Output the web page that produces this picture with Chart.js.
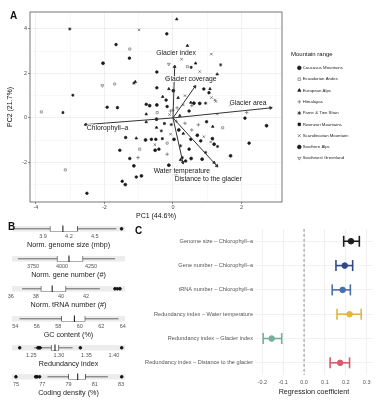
<!DOCTYPE html>
<html>
<head>
<meta charset="utf-8">
<script src="https://cdn.jsdelivr.net/npm/chart.js@4.4.1/dist/chart.umd.min.js"></script>
<style>
  body { margin: 0; background: #fff; }
  #fig { position: relative; width: 380px; height: 400px; font-family: 'Liberation Sans', Arial, sans-serif; overflow: hidden; }
  canvas { position: absolute; }
  .tag { position: absolute; font-weight: bold; font-size: 10px; color: #111; }
</style>
</head>
<body>
<div id="fig">
  <canvas id="pca" width="380" height="224" style="left:0;top:0"></canvas>
  <div class="tag" style="left:10px;top:10px">A</div>
  <canvas id="box0" width="134" height="28" style="left:0;top:221px"></canvas>
  <canvas id="box1" width="134" height="28" style="left:0;top:251px"></canvas>
  <canvas id="box2" width="134" height="28" style="left:0;top:281px"></canvas>
  <canvas id="box3" width="134" height="28" style="left:0;top:311px"></canvas>
  <canvas id="box4" width="134" height="28" style="left:0;top:340px"></canvas>
  <canvas id="box5" width="134" height="28" style="left:0;top:369px"></canvas>
  <div class="tag" style="left:8px;top:221px">B</div>
  <canvas id="coef" width="260" height="178" style="left:120px;top:222px"></canvas>
  <div class="tag" style="left:135px;top:225px">C</div>
</div>
<script>
// ---- panel A: PCA scores by mountain range ----
const rangeNames = ['Caucasus Mountains', 'Ecuadorian Andes', 'European Alps', 'Himalayas',
  'Pamir & Tien Shan', 'Rwenzori Mountains', 'Scandinavian Mountains', 'Southern Alps', 'Southwest Greenland'];

const caucasus = [[-1.66,3.29],[-1.27,2.68],[-1.92,0.48],[-1.62,0.46],[-0.47,2.06],[-0.18,3.77],[0.9,1.3],
  [1.05,1.13],[-0.17,0.51],[2.1,-0.01],[2.22,-1.13],[0.98,-0.17],[0.47,0.31],[-0.5,-0.96],[0.52,-0.96],
  [0.81,-1.03],[-0.41,-1.4],[0.47,-1.4],[0.37,-1.93],[-1.38,-0.88],[-0.63,-0.96],[-1.55,-1.45],[-1.26,-1.82],
  [-1.07,-2.65],[-1.48,-2.84],[-2.51,-3.38],[-0.2,0.8],[-0.78,0.61],[-0.47,1.35]];
const ecuadorian = [[-1.26,3.09],[-1.7,1.52],[0.42,2.3],[1.45,-0.44],[-0.46,0.24],[-0.17,-1.13],[-3.84,0.27],
  [-0.97,-1.4],[-3.14,-2.33]];
const europeanAlps = [[-1.1,1.62],[0.11,4.43],[0.42,3.24],[0.66,2.45],[1.29,1.96],[-0.12,1.3],[1.08,1.3],
  [0.52,0.69],[1.16,-0.39],[-0.48,-0.43],[0.22,-1.88],[1.2,-2.0],[-0.78,0.17],[-0.78,-0.18],[-1.07,-0.91],
  [0.2,0.1],[0.15,0.9],[-0.3,0.95],[0.3,-0.7]];
const himalayas = [[0.55,0.55],[2.15,0.24],[0.74,-0.31],[0.35,-0.24],[0.1,-0.15],[-0.07,0.31],[0.55,-0.54],
  [-0.17,-1.63],[-1.02,-1.78],[0.0,0.35],[0.12,0.45]];
const pamir = [[-3.01,3.99],[-1.14,1.56],[1.39,2.38],[0.95,0.66],[-0.34,-0.58],[1.3,-1.28],[0.22,-1.25],
  [0.95,-1.55],[0.09,-2.6],[-0.05,-0.3]];
const rwenzori = [[-2.92,1.02],[0.53,2.27],[-0.31,-0.93],[0.27,-1.78],[-3.21,0.24],[-0.25,-0.25]];
const scandinavian = [[-0.99,3.95],[1.12,2.86],[0.25,2.63],[0.78,2.08],[1.15,1.7],[1.12,0.91],[1.22,0.81],
  [0.3,0.58],[1.68,0.58],[1.25,0.74],[-0.07,-0.73],[0.9,-0.84],[1.1,-1.08],[-0.53,-1.2],[1.29,0.17],
  [-0.1,0.15],[0.35,1.0]];
const southernAlps = [[-2.04,2.45],[-0.68,0.55],[-0.17,1.78],[0.01,1.22],[0.61,0.66],[-0.47,0.58],[0.78,0.65],
  [2.73,-0.35],[1.68,-1.7],[-0.48,-0.06],[0.17,-0.54],[0.03,-0.96],[0.71,-0.78],[1.2,-1.18],[1.15,-0.93],
  [0.53,-1.82],[0.85,-1.85],[-0.12,-2.12],[-0.8,-0.99],[-0.52,-1.45],[-1.14,-2.15],[-0.92,-2.6],[-1.39,-2.99]];
const greenland = [[-2.06,1.45],[-0.12,2.41],[-0.53,-2.3]];

const loadingNames = ['Glacier index', 'Glacier coverage', 'Glacier area', 'Chlorophyll\u2013a',
  'Water temperature', 'Distance to the glacier'];
const loadingX = [0.05, 0.64, 2.85, -2.55, 0.29, 1.28];
const loadingY = [2.3, 1.4, 0.45, -0.3, -2.0, -2.15];
const loadingLabelX = [0.09, 0.52, 2.19, -1.91, 0.26, 1.03];
const loadingLabelY = [2.91, 1.75, 0.67, -0.45, -2.38, -2.74];

const pc1Ticks = [-4, -3, -2, -1, 0, 1, 2, 3];
const pc2Ticks = [-3, -2, -1, 0, 1, 2, 3, 4];

// ---- panel B: genome feature distributions ----
const boxTitles = ['Norm. genome size (mbp)', 'Norm. gene number (#)', 'Norm. tRNA number (#)',
  'GC content (%)', 'Redundancy index', 'Coding density (%)'];
const boxLow = [3.55, 3620, 36.9, 54.4, 1.255, 77.4];
const boxQ1 = [3.98, 3957, 38.4, 58.3, 1.286, 79.0];
const boxMed = [4.13, 4060, 39.3, 59.5, 1.293, 79.7];
const boxQ3 = [4.30, 4181, 40.4, 60.5, 1.300, 80.3];
const boxHigh = [4.75, 4457, 43.1, 63.6, 1.325, 82.0];
const boxOutliers = [[4.81], [], [44.3, 44.5, 44.7], [], [1.229, 1.262, 1.264, 1.266, 1.339, 1.414],
  [75.0, 76.5, 76.6, 76.8, 83.05]];
const boxTicks = [[3.9, 4.2, 4.5], [3750, 4000, 4250], [36, 38, 40, 42], [54, 56, 58, 60, 62, 64],
  [1.25, 1.30, 1.35, 1.40], [75, 77, 79, 81, 83]];
const boxMin = [3.54, 3569, 36.1, 53.7, 1.215, 74.7];
const boxMax = [4.85, 4543, 45.1, 64.2, 1.42, 83.3];
const boxDigits = [1, 0, 0, 0, 2, 0];

// ---- panel C: regression coefficients ----
const coefLabels = ['Genome size \u2013 Chlorophyll\u2013a', 'Gene number \u2013 Chlorophyll\u2013a',
  'tRNA number \u2013 Chlorophyll\u2013a', 'Redundancy index \u2013 Water temperature',
  'Redundancy index \u2013 Glacier index', 'Redundancy index \u2013 Distance to the glacier'];
const coefEst = [0.225, 0.195, 0.185, 0.218, -0.155, 0.173];
const coefLow = [0.19, 0.153, 0.135, 0.158, -0.196, 0.125];
const coefHigh = [0.265, 0.233, 0.222, 0.274, -0.107, 0.218];
const coefTicks = [-0.2, -0.15, -0.1, -0.05, 0, 0.05, 0.1, 0.15, 0.2, 0.25, 0.3];
const coefColors = ['#1e1e1e', '#2f4a85', '#4a6ea8', '#e2b440', '#72b09a', '#d85c6a'];

Chart.defaults.font.family = "'Liberation Sans', Arial, sans-serif";
Chart.defaults.color = '#4d4d4d';
Chart.defaults.animation = false;
Chart.defaults.responsive = false;
Chart.defaults.plugins.tooltip.enabled = false;

const frame = {
  id: 'frame',
  beforeDraw(chart, args, opts) {
    const a = chart.chartArea, ctx = chart.ctx;
    if (opts.fill) {
      ctx.save();
      ctx.fillStyle = opts.fill;
      ctx.fillRect(a.left, a.top, a.width, a.height);
      ctx.restore();
    }
  },
  afterDatasetsDraw(chart, args, opts) {
    const a = chart.chartArea, ctx = chart.ctx;
    if (opts.stroke) {
      ctx.save();
      ctx.strokeStyle = opts.stroke;
      ctx.lineWidth = 0.8;
      ctx.strokeRect(a.left, a.top, a.width, a.height);
      ctx.restore();
    }
  }
};

const biplotText = {
  id: 'biplotText',
  afterDatasetsDraw(chart) {
    const { ctx, scales: { x, y } } = chart;
    ctx.save();
    ctx.font = "6.8px 'Liberation Sans', Arial, sans-serif";
    ctx.textAlign = 'center';
    ctx.textBaseline = 'middle';
    ctx.lineJoin = 'round';
    loadingNames.forEach((n, i) => {
      const px = x.getPixelForValue(loadingLabelX[i]);
      const py = y.getPixelForValue(loadingLabelY[i]);
      ctx.strokeStyle = 'rgba(255,255,255,0.85)';
      ctx.lineWidth = 2;
      ctx.strokeText(n, px, py);
      ctx.fillStyle = '#1a1a1a';
      ctx.fillText(n, px, py);
    });
    ctx.restore();
  }
};

const zeroLine = {
  id: 'zeroLine',
  beforeDatasetsDraw(chart) {
    const { ctx, chartArea: a, scales: { x } } = chart;
    const px = x.getPixelForValue(0);
    ctx.save();
    ctx.strokeStyle = '#8a8a8a';
    ctx.lineWidth = 1;
    ctx.setLineDash([2.5, 2.5]);
    ctx.beginPath();
    ctx.moveTo(px, a.top);
    ctx.lineTo(px, a.bottom);
    ctx.stroke();
    ctx.restore();
  }
};

// ---- draw A ----
const groupData = [caucasus, ecuadorian, europeanAlps, himalayas, pamir, rwenzori, scandinavian, southernAlps, greenland];
const groupStyle = [
  { pointStyle: 'circle', fill: '#1a1a1a', stroke: '#1a1a1a', r: 1.3, rot: 0 },
  { pointStyle: 'rect', fill: 'rgba(0,0,0,0)', stroke: '#777', r: 1.5, rot: 0 },
  { pointStyle: 'triangle', fill: '#1a1a1a', stroke: '#1a1a1a', r: 1.5, rot: 0 },
  { pointStyle: 'cross', fill: '#666', stroke: '#666', r: 1.8, rot: 0 },
  { pointStyle: 'star', fill: '#1a1a1a', stroke: '#1a1a1a', r: 1.6, rot: 0 },
  { pointStyle: 'rect', fill: '#1a1a1a', stroke: '#1a1a1a', r: 1.3, rot: 0 },
  { pointStyle: 'crossRot', fill: '#555', stroke: '#555', r: 1.7, rot: 0 },
  { pointStyle: 'circle', fill: '#1a1a1a', stroke: '#1a1a1a', r: 1.45, rot: 0 },
  { pointStyle: 'triangle', fill: 'rgba(0,0,0,0)', stroke: '#666', r: 1.7, rot: 180 }
];

const pcaSets = groupData.map((pts, i) => ({
  label: rangeNames[i],
  data: pts.map(p => ({ x: p[0], y: p[1] })),
  pointStyle: groupStyle[i].pointStyle,
  backgroundColor: groupStyle[i].fill,
  borderColor: groupStyle[i].stroke,
  pointRadius: groupStyle[i].r,
  pointBorderWidth: 0.7,
  pointRotation: groupStyle[i].rot
}));

const arrowRotation = c => {
  const sx = c.chart.scales.x, sy = c.chart.scales.y;
  if (!sx || !sy || !c.raw) return 0;
  const dx = sx.getPixelForValue(c.raw.x) - sx.getPixelForValue(0);
  const dy = sy.getPixelForValue(c.raw.y) - sy.getPixelForValue(0);
  return Math.atan2(dx, -dy) * 180 / Math.PI;
};

loadingNames.forEach((n, i) => {
  pcaSets.push({
    label: n,
    data: [{ x: 0, y: 0 }, { x: loadingX[i], y: loadingY[i] }],
    showLine: true,
    borderColor: '#333',
    backgroundColor: '#333',
    borderWidth: 1,
    pointStyle: 'triangle',
    pointRadius: [0, 1.6],
    pointRotation: arrowRotation,
    order: -1
  });
});

new Chart(document.getElementById('pca'), {
  type: 'scatter',
  data: { datasets: pcaSets },
  options: {
    layout: { padding: { left: 4, top: 12, right: 31.6, bottom: 0 } },
    plugins: {
      frame: { stroke: '#555' },
      legend: {
        position: 'right',
        align: 'start',
        title: { display: true, text: 'Mountain range', color: '#111', font: { size: 6 }, position: 'start', padding: { top: 39.5, bottom: 0 } },
        labels: {
          usePointStyle: true, boxWidth: 2.6, boxHeight: 2.6, padding: 7.0, color: '#222',
          font: { size: 4.3 },
          filter: item => item.datasetIndex < rangeNames.length
        }
      }
    },
    scales: {
      x: {
        type: 'linear', min: -4.17, max: 3.18,
        afterBuildTicks: s => { s.ticks = pc1Ticks.map(v => ({ value: v })); },
        afterFit: s => { s.height = 22; },
        grid: {
          color: c => (c.tick && c.tick.value % 2 === 0) ? '#e6e6e6' : '#f3f3f3',
          lineWidth: 0.6, tickLength: 2,
          tickColor: c => (c.tick && c.tick.value % 2 === 0) ? '#444' : 'rgba(0,0,0,0)'
        },
        border: { display: false },
        ticks: { padding: 0, font: { size: 5.5 }, color: '#4d4d4d', maxRotation: 0,
          callback: v => v % 2 === 0 ? v : '' },
        title: { display: true, text: 'PC1 (44.6%)', color: '#111', font: { size: 7 }, padding: { top: 0, bottom: 4 } }
      },
      y: {
        type: 'linear', min: -3.77, max: 4.75,
        afterBuildTicks: s => { s.ticks = pc2Ticks.map(v => ({ value: v })); },
        afterFit: s => { s.width = 26; },
        grid: {
          color: c => (c.tick && c.tick.value % 2 === 0) ? '#e6e6e6' : '#f3f3f3',
          lineWidth: 0.6, tickLength: 2,
          tickColor: c => (c.tick && c.tick.value % 2 === 0) ? '#444' : 'rgba(0,0,0,0)'
        },
        border: { display: false },
        ticks: { padding: 1, font: { size: 5.5 }, color: '#4d4d4d',
          callback: v => v % 2 === 0 ? v : '' },
        title: { display: true, text: 'PC2 (21.7%)', color: '#111', font: { size: 7 }, padding: { top: 2, bottom: 2 } }
      },
      gap: {
        type: 'linear', position: 'right', display: true,
        afterFit: s => { s.width = 9; },
        grid: { display: false, drawTicks: false },
        border: { display: false },
        ticks: { display: false }
      }
    }
  },
  plugins: [frame, biplotText]
});

// ---- draw B ----
boxTitles.forEach((t, i) => {
  const sets = [
    { type: 'scatter', data: boxOutliers[i].map(v => ({ x: v, y: t })), pointRadius: 1.3,
      backgroundColor: '#111', borderColor: '#111' },
    { type: 'scatter', data: [{ x: boxMed[i], y: t }], pointStyle: 'line', pointRotation: 90,
      pointRadius: 3.3, borderColor: '#222', pointBorderWidth: 1.1 },
    { type: 'bar', data: [[boxQ1[i], boxQ3[i]]], backgroundColor: '#fff', borderColor: '#333',
      borderWidth: 0.8, borderSkipped: false, barThickness: 6.5 },
    { type: 'line', data: [{ x: boxLow[i], y: t }, { x: boxHigh[i], y: t }], borderColor: '#444',
      borderWidth: 0.8, pointRadius: 0 }
  ];
  new Chart(document.getElementById('box' + i), {
    type: 'bar',
    data: { labels: [t], datasets: sets },
    options: {
      indexAxis: 'y',
      layout: { padding: { left: 12, right: 9, top: 1.5, bottom: 0 } },
      plugins: { legend: { display: false }, frame: { fill: '#ececec' } },
      scales: {
        x: {
          type: 'linear', min: boxMin[i], max: boxMax[i],
          afterBuildTicks: s => { s.ticks = boxTicks[i].map(v => ({ value: v })); },
          afterFit: s => { s.height = 17.5; },
          grid: { display: false, drawTicks: false },
          border: { display: false },
          ticks: { padding: 1.5, font: { size: 5.5 }, color: '#555', maxRotation: 0,
            callback: v => v.toFixed(boxDigits[i]) },
          title: { display: true, text: t, color: '#222', font: { size: 7.2 }, padding: { top: 0, bottom: 0 } }
        },
        y: { display: false }
      }
    },
    plugins: [frame]
  });
});

// ---- draw C ----
const coefSets = [
  { type: 'scatter', data: coefEst.map((v, i) => ({ x: v, y: coefLabels[i] })), pointRadius: 2.8,
    backgroundColor: coefColors, borderColor: coefColors }
];
coefLabels.forEach((l, i) => {
  coefSets.push({
    type: 'line', data: [{ x: coefLow[i], y: l }, { x: coefHigh[i], y: l }],
    borderColor: coefColors[i], borderWidth: 1.6, pointStyle: 'line', pointRotation: 90,
    pointRadius: 5.5, pointBorderWidth: 1.6, pointBorderColor: coefColors[i]
  });
});

new Chart(document.getElementById('coef'), {
  type: 'scatter',
  data: { labels: coefLabels, datasets: coefSets },
  options: {
    layout: { padding: { left: 2, right: 1, top: 7, bottom: 0 } },
    plugins: { legend: { display: false } },
    scales: {
      x: {
        type: 'linear', min: -0.235, max: 0.33,
        afterBuildTicks: s => { s.ticks = coefTicks.map(v => ({ value: v })); },
        afterFit: s => { s.height = 25; },
        grid: { color: c => (c.tick && Math.abs(Math.round(c.tick.value * 10) - c.tick.value * 10) < 1e-6) ? '#e8e8e8' : '#f4f4f4',
          lineWidth: 0.7, drawTicks: false },
        border: { display: false },
        ticks: { padding: 4, font: { size: 5.5 }, color: '#555', maxRotation: 0,
          callback: v => (Math.abs(Math.round(v * 10) - v * 10) < 1e-6) ? v.toFixed(1) : '' },
        title: { display: true, text: 'Regression coefficient', color: '#222', font: { size: 7.2 }, padding: { top: 0, bottom: 4 } }
      },
      y: {
        type: 'category', labels: coefLabels, offset: true,
        afterFit: s => { s.width = 133; },
        grid: { color: '#ececec', lineWidth: 0.7, drawTicks: false, offset: false },
        border: { display: false },
        ticks: { padding: 2, font: { size: 5.6 }, color: '#555' }
      }
    }
  },
  plugins: [zeroLine]
});
</script>
</body>
</html>
